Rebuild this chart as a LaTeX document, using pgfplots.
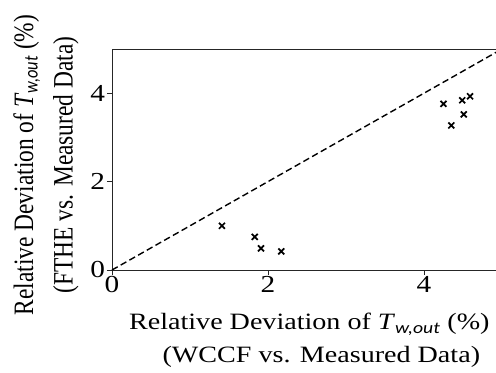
\documentclass[border=0pt]{standalone}
\usepackage{pgfplots}
\pgfplotsset{compat=1.18}
\usepackage{fontspec}
\setmainfont{Liberation Serif}
\newfontfamily\calibri{Carlito}
\newcommand{\Twout}{\textit{T}\textsubscript{\calibri\itshape w,out}}
\begin{document}
\begin{tikzpicture}
\begin{axis}[name=ax, scale only axis, width=390bp, height=221bp,
  xmin=0, xmax=5, ymin=0, ymax=5,
  xtick={0,2,4}, ytick={0,2,4},
  xtick pos=left, ytick pos=left, tick align=outside, major tick length=5bp,
  axis line style={black!85, line width=0.9bp},
  every tick/.style={black!85, line width=0.9bp},
  /pgf/number format/assume math mode=true,
  tick label style={font=\fontsize{24.5}{24.5}\selectfont, xscale=1.2, inner sep=1.5bp},
  xlabel={Relative Deviation of \Twout\ (\%)\\\hspace*{20bp}(WCCF vs. Measured Data)},
  ylabel={Relative Deviation of \Twout\ (\%)\\(FTHE vs. Measured Data)},
  xlabel style={font=\fontsize{23.5}{33}\selectfont, align=center, xscale=1.2, inner sep=0pt,
    at={(axis description cs:0.506,-0.193)}, anchor=north},
  ylabel style={font=\fontsize{23.5}{33}\selectfont, align=center, yscale=1.2, inner sep=0pt,
    at={(axis description cs:-0.085,0.475)}, anchor=south},
  clip=false,
]
\addplot[black, line width=1.4bp, dash pattern=on 6.5bp off 3.5bp] coordinates {(0,0) (5,5)};
\addplot[only marks, mark=x, mark size=4.2bp, black, line width=1.7bp] coordinates {
  (1.41,1.00) (1.83,0.75) (1.91,0.49) (2.17,0.42)
  (4.25,3.76) (4.35,3.27) (4.49,3.84) (4.51,3.52) (4.59,3.93)
};
\end{axis}
\pgfresetboundingbox
\path[use as bounding box] (ax.south west) ++(-112bp,-103bp) rectangle ++(496bp,373bp);
\end{tikzpicture}
\end{document}
